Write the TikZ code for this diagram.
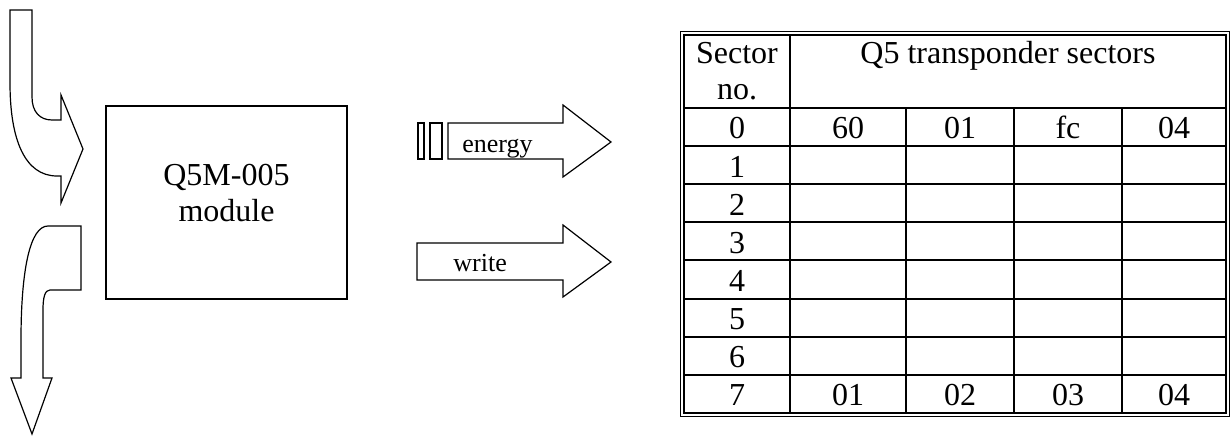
\documentclass[tikz,border=0pt]{standalone}
\usepackage{fontspec}
\setmainfont{Liberation Serif}
\begin{document}
\begin{tikzpicture}
[
x=0.5pt, y=-0.5pt,
modbox/.style={draw=black, line width=0.65pt, minimum width=120.5pt, minimum height=96.5pt},
bigtext/.style={font=\fontsize{16}{18}\selectfont, align=center, inner sep=0pt},
arrowlabel/.style={font=\fontsize{13}{15}\selectfont, inner sep=0pt, anchor=base west},
blockarrow/.style={draw=black, line width=0.6pt, line join=miter},
grid/.style={draw=black, line width=1pt},
cell/.style={font=\fontsize{16}{18}\selectfont, inner sep=0pt, anchor=base}
]
\useasboundingbox (0,0) rectangle (1232,437);

%Nodes
\node[modbox]   (module)    at (226.5,202.5)    {};
\node[bigtext]  (modtext)   at (226.5,193)      {Q5M-005\\module};

%Arrows
\draw[blockarrow] (10,10) -- (32,10) -- (32,97) .. controls (32,112) and (40,120) .. (52,120)
    -- (61,120) -- (61,95) -- (83,149) -- (61,203) -- (61,176) -- (57,176)
    .. controls (25,176) and (10,140) .. (10,83) -- cycle;
\draw[blockarrow] (48,226) -- (81,226) -- (81,290) -- (50,290) .. controls (45,290) and (43,297) .. (43,310)
    -- (43,378) -- (52,378) -- (32,434) -- (11,378) -- (21,378) -- (21,340)
    .. controls (21,270) and (30,226) .. (48,226) -- cycle;

\draw[blockarrow] (418,123) rectangle (424,159);
\draw[blockarrow] (430,123) rectangle (442,159);
\draw[blockarrow] (448,123) -- (563,123) -- (563,105) -- (611,142) -- (563,177) -- (563,159) -- (448,159) -- cycle;
\begin{scope}
\clip (448,123) rectangle (563,157.5);
\node[arrowlabel] (energy) at (462,153) {energy};
\end{scope}

\draw[blockarrow] (417,243) -- (563,243) -- (563,225) -- (611,262) -- (563,297) -- (563,280) -- (417,280) -- cycle;
\node[arrowlabel] (write) at (453,272) {write};

%Table
\draw[line width=0.8pt] (680.5,31.5) rectangle (1229.5,416.5);
\draw[grid] (684,35) rectangle (1226,413);
\draw[grid] (790,35) -- (790,413);
\draw[grid] (684,108) -- (1226,108);
\foreach \x in {906,1014,1122}
    \draw[grid] (\x,108) -- (\x,413);
\foreach \i in {1,...,7}
    \draw[grid] (684,{108+38.125*\i}) -- (1226,{108+38.125*\i});

\node[bigtext, anchor=base] (sectorno) at (737,100) {Sector\\no.};
\node[cell] (sectors)  at (1008,64) {Q5 transponder sectors};
\foreach \r in {0,...,7}
    \node[cell] (no\r) at (737,{139+38.125*\r}) {\r};

\node[cell] (a0) at (848,139)    {60};
\node[cell] (b0) at (960,139)    {01};
\node[cell] (c0) at (1068,139)   {fc};
\node[cell] (d0) at (1174,139)   {04};
\node[cell] (a7) at (848,405.9)  {01};
\node[cell] (b7) at (960,405.9)  {02};
\node[cell] (c7) at (1068,405.9) {03};
\node[cell] (d7) at (1174,405.9) {04};
\end{tikzpicture}
\end{document}
